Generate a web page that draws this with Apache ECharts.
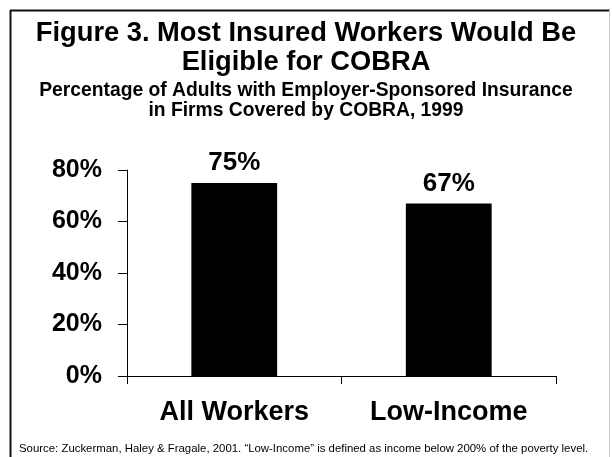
<!DOCTYPE html>
<html>
<head>
<meta charset="utf-8">
<script src="https://cdn.jsdelivr.net/npm/echarts@6/dist/echarts.min.js"></script>
<style>
  html, body { margin: 0; padding: 0; background: #ffffff; }
  #chart { width: 612px; height: 457px; }
</style>
</head>
<body>
<div id="chart"></div>
<script>
// Share of adults with employer-sponsored insurance in COBRA-covered firms, 1999
const categories = ['All Workers', 'Low-Income'];
const shares = [75, 67];
const yTicks = [0, 20, 40, 60, 80];

const titleLines = ['Figure 3. Most Insured Workers Would Be', 'Eligible for COBRA'];
const subtitleLines = [
  'Percentage of Adults with Employer-Sponsored Insurance',
  'in Firms Covered by COBRA, 1999'
];
const sourceNote = 'Source: Zuckerman, Haley & Fragale, 2001. \u201CLow-Income\u201D is defined as income below 200% of the poverty level.';

const FONT = '"Liberation Sans", Arial, Helvetica, sans-serif';

const chart = echarts.init(document.getElementById('chart'), null, { renderer: 'canvas' });

function centeredText(text, y, size, weight) {
  return {
    type: 'text',
    x: 306,
    y: y,
    style: {
      text: text,
      fill: '#000',
      font: weight + ' ' + size + 'px ' + FONT,
      align: 'center',
      verticalAlign: 'top'
    }
  };
}

chart.setOption({
  animation: false,
  backgroundColor: '#ffffff',
  grid: { left: 127, right: 56, top: 170, bottom: 81, containLabel: false },
  xAxis: {
    type: 'category',
    data: categories,
    boundaryGap: true,
    axisLine: { show: true, lineStyle: { color: '#000', width: 1 } },
    axisTick: { show: true, length: 8, alignWithLabel: false, lineStyle: { color: '#000' } },
    axisLabel: {
      margin: 23,
      color: '#000',
      fontFamily: FONT,
      fontWeight: 'bold',
      fontSize: 27
    },
    splitLine: { show: false }
  },
  yAxis: {
    type: 'value',
    min: yTicks[0],
    max: yTicks[yTicks.length - 1],
    interval: yTicks[1] - yTicks[0],
    axisLine: { show: true, lineStyle: { color: '#000', width: 1 } },
    axisTick: { show: true, length: 9, lineStyle: { color: '#000' } },
    axisLabel: {
      margin: 25,
      color: '#000',
      fontFamily: FONT,
      fontWeight: 'bold',
      fontSize: 25,
      formatter: '{value}%'
    },
    splitLine: { show: false }
  },
  series: [{
    type: 'bar',
    data: shares,
    barWidth: '40%',
    itemStyle: { color: '#000' },
    label: {
      show: true,
      position: 'top',
      distance: 7,
      color: '#000',
      fontFamily: FONT,
      fontWeight: 'bold',
      fontSize: 26,
      formatter: '{c}%'
    }
  }],
  graphic: [
    // frame around the figure
    { type: 'line', shape: { x1: 10, y1: 10.5, x2: 610, y2: 10.5 }, style: { stroke: '#111', lineWidth: 2 } },
    { type: 'line', shape: { x1: 10.5, y1: 10, x2: 10.5, y2: 457 }, style: { stroke: '#111', lineWidth: 2 } },
    { type: 'line', shape: { x1: 609.5, y1: 10, x2: 609.5, y2: 457 }, style: { stroke: '#cccccc', lineWidth: 1 } },
    centeredText(titleLines[0], 20, 27.3, 'bold'),
    centeredText(titleLines[1], 49, 27.3, 'bold'),
    centeredText(subtitleLines[0], 81, 19.3, 'bold'),
    centeredText(subtitleLines[1], 101, 19.3, 'bold'),
    {
      type: 'text',
      x: 19,
      y: 443,
      style: {
        text: sourceNote,
        fill: '#000',
        font: '11.4px ' + FONT,
        align: 'left',
        verticalAlign: 'top'
      }
    }
  ]
});
</script>
</body>
</html>
